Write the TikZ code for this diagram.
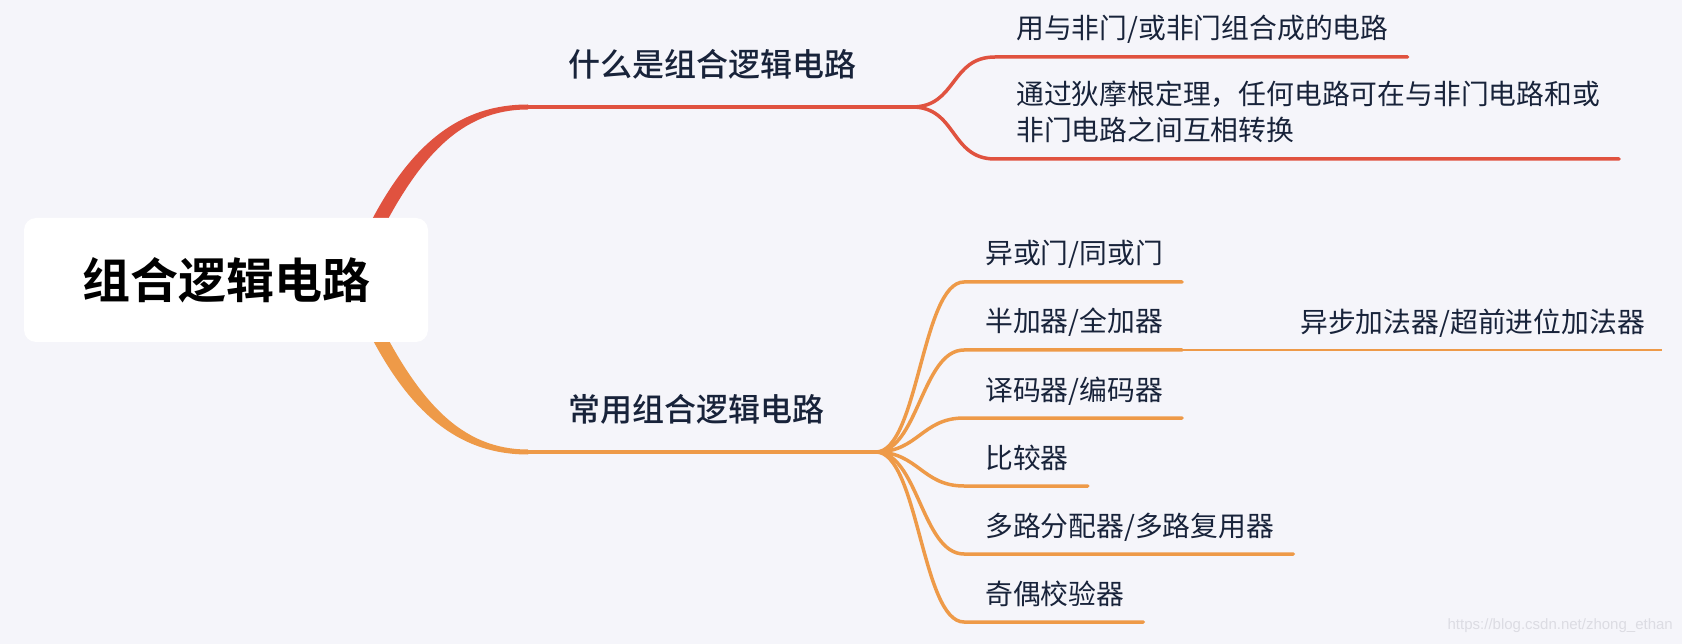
\documentclass[tikz,border=0pt]{standalone}
\usepackage{fontspec}
\setmainfont{Noto Sans CJK SC}[BoldFont=* Bold]
\newfontfamily\medfont{Noto Sans CJK SC Medium}
\newfontfamily\wmfont{Liberation Sans}
\usetikzlibrary{positioning,backgrounds}
\definecolor{bgcol}{HTML}{F5F5FA}
\definecolor{mapred}{HTML}{E0523F}
\definecolor{maporange}{HTML}{EE9A48}
\definecolor{inknavy}{HTML}{18233A}
\definecolor{wmgray}{HTML}{DCDCE3}

\begin{document}
\begin{tikzpicture}[x=1pt,y=-1pt,
  branch/.style={font=\medfont\fontsize{32}{38}\selectfont,text=inknavy,inner sep=0pt},
  leaf/.style={font=\fontsize{27.8}{36}\selectfont,text=inknavy,inner sep=0pt,align=left},
  twig/.style={line width=3.5pt,line cap=round},
  thin twig/.style={line width=1.8pt}]
  \useasboundingbox (0,0) rectangle (1682,644);

  \node[fill=white,rounded corners=12pt,minimum width=404pt,minimum height=124pt,
    font=\fontsize{48}{56}\selectfont\bfseries] (root) at (226,280) {组合逻辑电路};

  \coordinate (rb) at (528,107);
  \coordinate (rj) at (912,107);
  \coordinate (ob) at (528,452);
  \coordinate (oj) at (876,452);

  \begin{scope}[on background layer]
    \fill[bgcol] (0,0) rectangle (1682,644);
    \fill[mapred] ([shift={(-71,-30)}]root.east) .. controls (403,148) and (456,104.5) .. ([yshift=2.5pt]rb)
      -- ([yshift=-2.5pt]rb) .. controls (462,109.5) and (418,155) .. ([shift={(-56,-30)}]root.east) -- cycle;
    \fill[maporange] ([shift={(-71,28)}]root.east) .. controls (403,410) and (456,454.5) .. ([yshift=-2.5pt]ob)
      -- ([yshift=2.5pt]ob) .. controls (462,449.5) and (418,403) .. ([shift={(-56,28)}]root.east) -- cycle;
  \end{scope}

  % first branch
  \node[branch,above right=30pt and 40pt of rb,anchor=base west] (what) {什么是组合逻辑电路};
  \draw[mapred,line width=4.5pt] (rb) -- (rj);

  \coordinate (r1) at (995,57);
  \coordinate (r2) at (995,159);
  \node[leaf,above right=18pt and 21pt of r1,anchor=base west] (nand) {用与非门/或非门组合成的电路};
  \node[leaf,above right=18pt and 21pt of r2,anchor=base west] (morgan)
    {通过狄摩根定理，任何电路可在与非门电路和或\\非门电路之间互相转换};
  \draw[twig,mapred] (rj) .. controls +(45,0) and +(-45,0) .. (r1) -- ([xshift=19pt]r1 -| nand.east);
  \draw[twig,mapred] (rj) .. controls +(45,0) and +(-45,0) .. (r2) -- ([xshift=19pt]r2 -| morgan.east);

  % second branch
  \node[branch,above right=31pt and 40pt of ob,anchor=base west] (common) {常用组合逻辑电路};
  \draw[maporange,line width=4.5pt] (ob) -- (oj);

  \coordinate (o1) at (964,282);
  \coordinate (o2) at (964,350);
  \coordinate (o3) at (964,418);
  \coordinate (o4) at (964,486);
  \coordinate (o5) at (964,554);
  \coordinate (o6) at (964,622);
  \node[leaf,above right=18pt and 21pt of o1,anchor=base west] (xor) {异或门/同或门};
  \node[leaf,above right=18pt and 21pt of o2,anchor=base west] (adder) {半加器/全加器};
  \node[leaf,above right=18pt and 21pt of o3,anchor=base west] (coder) {译码器/编码器};
  \node[leaf,above right=18pt and 21pt of o4,anchor=base west] (comp) {比较器};
  \node[leaf,above right=18pt and 21pt of o5,anchor=base west] (mux) {多路分配器/多路复用器};
  \node[leaf,above right=18pt and 21pt of o6,anchor=base west] (parity) {奇偶校验器};
  \foreach \t/\n in {o1/xor,o2/adder,o3/coder,o4/comp,o5/mux,o6/parity}
    \draw[twig,maporange] (oj) .. controls +(42,0) and +(-42,0) .. (\t) -- ([xshift=19pt]\t -| \n.east) coordinate (\t e);

  \node[leaf,above right=17pt and 118pt of o2e,anchor=base west] (carry) {异步加法器/超前进位加法器};
  \draw[thin twig,maporange] (o2e) -- ([xshift=17pt]o2e -| carry.east);

  \node[font=\wmfont\fontsize{15}{18}\selectfont,text=wmgray,anchor=east,inner sep=0pt] (wm)
    at (1673,626) {https://blog.csdn.net/zhong\_ethan};
\end{tikzpicture}
\end{document}
